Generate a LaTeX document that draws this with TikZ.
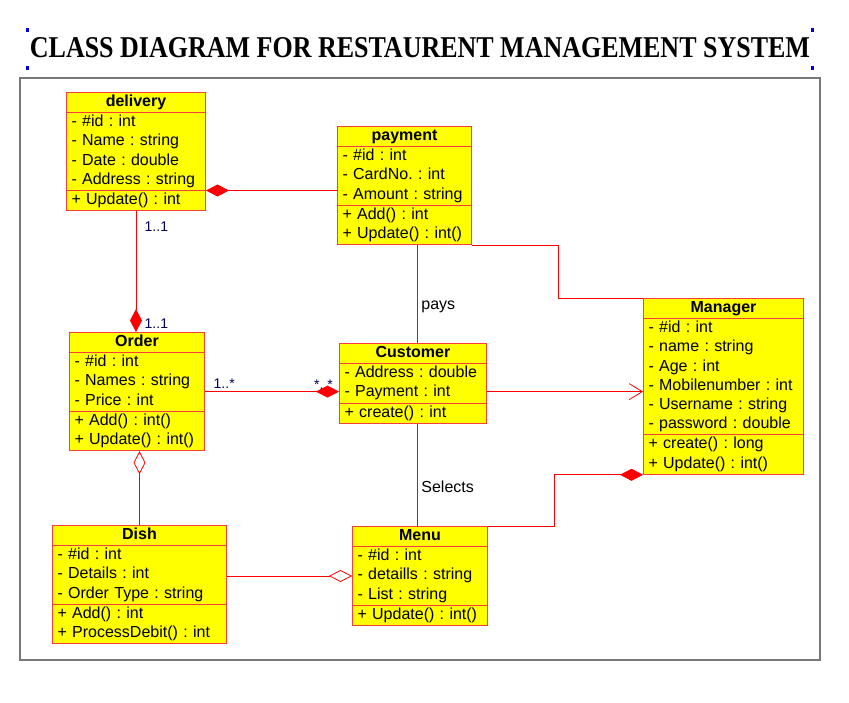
\documentclass[tikz,border=0pt]{standalone}
\usepackage{fontspec}
\setmainfont{Liberation Sans}
\newfontfamily\titlefont{Liberation Serif}
\usetikzlibrary{shapes.multipart,arrows.meta}
\definecolor{boxred}{RGB}{255,60,60}
\definecolor{boxyellow}{RGB}{255,255,0}
\definecolor{multblue}{RGB}{0,0,90}
\definecolor{framegray}{RGB}{120,120,120}
\definecolor{handleblue}{RGB}{0,0,230}
\newcommand\head[1]{\makebox[\linewidth]{\strut\textbf{#1}}}

\begin{document}
\frenchspacing
\begin{tikzpicture}[x=1pt,y=-1pt,
  umlclass/.style={rectangle split, rectangle split parts=3, draw=boxred, fill=boxyellow,
    line width=1pt, anchor=north west, inner xsep=5pt, inner ysep=0pt, align=left,
    font=\fontsize{16}{19.2}\selectfont},
  assoc/.style={draw=red, line width=0.8pt},
  comp/.style={assoc, -{Diamond[length=23pt,width=12pt]}},
  aggr/.style={assoc, -{Diamond[length=23pt,width=12pt,open]}},
  nav/.style={assoc, -{Straight Barb[length=13pt,width=16pt]}},
  mult/.style={text=multblue, font=\fontsize{14}{16}\selectfont, inner sep=0pt},
  lbl/.style={font=\fontsize{16}{19}\selectfont, inner sep=4pt}]

  \useasboundingbox (0,0) rectangle (849,703);

  %% title with its handles
  \node[inner sep=0pt] (title) at (420,47.5)
    {\resizebox{780pt}{20pt}{\titlefont\bfseries CLASS DIAGRAM FOR RESTAURENT MANAGEMENT SYSTEM}};
  \fill[handleblue] (25.5,28) rectangle +(3,4);
  \fill[handleblue] (810.5,28) rectangle +(3,4);
  \fill[handleblue] (25.5,66) rectangle +(3,4);
  \fill[handleblue] (810.5,66) rectangle +(3,4);

  \draw[framegray, line width=1.2pt] (20,78) rectangle (820,660);

  %% classes
  \node[umlclass, text width=129pt] (delivery) at (66,92)
    {\head{delivery}
     \nodepart{two}\strut- \#id : int\\- Name : string\\- Date : double\\- Address : string\strut
     \nodepart{three}\strut+ Update() : int\strut};
  \node[umlclass, text width=124pt] (payment) at (337,126)
    {\head{payment}
     \nodepart{two}\strut- \#id : int\\- CardNo. : int\\- Amount : string\strut
     \nodepart{three}\strut+ Add() : int\\+ Update() : int()\strut};
  \node[umlclass, text width=125pt] (Order) at (69,332)
    {\head{Order}
     \nodepart{two}\strut- \#id : int\\- Names : string\\- Price : int\strut
     \nodepart{three}\strut+ Add() : int()\\+ Update() : int()\strut};
  \node[umlclass, text width=137pt] (Customer) at (339,343)
    {\head{Customer}
     \nodepart{two}\strut- Address : double\\- Payment : int\strut
     \nodepart{three}\strut+ create() : int\strut};
  \node[umlclass, text width=150pt] (Manager) at (643,298)
    {\head{Manager}
     \nodepart{two}\strut- \#id : int\\- name : string\\- Age : int\\- Mobilenumber : int\\- Username : string\\- password : double\strut
     \nodepart{three}\strut+ create() : long\\+ Update() : int()\strut};
  \node[umlclass, text width=164pt] (Dish) at (52,525)
    {\head{Dish}
     \nodepart{two}\strut- \#id : int\\- Details : int\\- Order Type : string\strut
     \nodepart{three}\strut+ Add() : int\\+ ProcessDebit() : int\strut};
  \node[umlclass, text width=125pt] (Menu) at (352,526)
    {\head{Menu}
     \nodepart{two}\strut- \#id : int\\- detaills : string\\- List : string\strut
     \nodepart{three}\strut+ Update() : int()\strut};

  %% multiplicities
  \node[mult, anchor=base west] (dlvone) at ([xshift=8.5pt,yshift=-20pt]delivery.south) {1..1};
  \node[mult, anchor=base west] (ordone) at ([xshift=7.5pt,yshift=3pt]Order.north) {1..1};
  \node[mult, anchor=base west] (ordmany) at ([xshift=8.5pt,yshift=3pt]Order.east) {1..*};
  \node[mult, anchor=base] (custmany) at ([xshift=-15.5pt,yshift=-6.5pt]Customer.west) {*..*};

  %% connectors
  \draw[comp] (delivery.two split east -| payment.west) -- (delivery.two split east); %% payment->delivery
  \draw[comp] (delivery.south) -- (delivery.south |- Order.north); %% delivery->Order
  \draw[comp] (Order.east) -- (Order.east -| Customer.west); %% Order->Customer
  \draw[nav] (Order.east -| Customer.east) -- (Order.east -| Manager.west); %% Customer->Manager
  \draw[assoc] ([xshift=4pt]Customer.north)
    -- node[lbl, pos=.37, anchor=west] (pays) {pays} ([xshift=4pt]Customer.north |- payment.south);
  \draw[assoc] ([xshift=4pt]Customer.south)
    -- node[lbl, pos=.615, anchor=west] (selects) {Selects} ([xshift=4pt]Customer.south |- Menu.north);
  \draw[assoc] (payment.south east) -- ++(86,0) |- (Manager.north west); %% payment->Manager
  \draw[comp] (Menu.north east) -- ++(66,0) |- (Manager.south west); %% Menu->Manager
  \draw[aggr] (Dish.north) -- (Dish.north |- Order.south); %% Dish->Order
  \draw[aggr] (Dish.east |- Menu.west) -- (Menu.west); %% Dish->Menu
\end{tikzpicture}
\end{document}
